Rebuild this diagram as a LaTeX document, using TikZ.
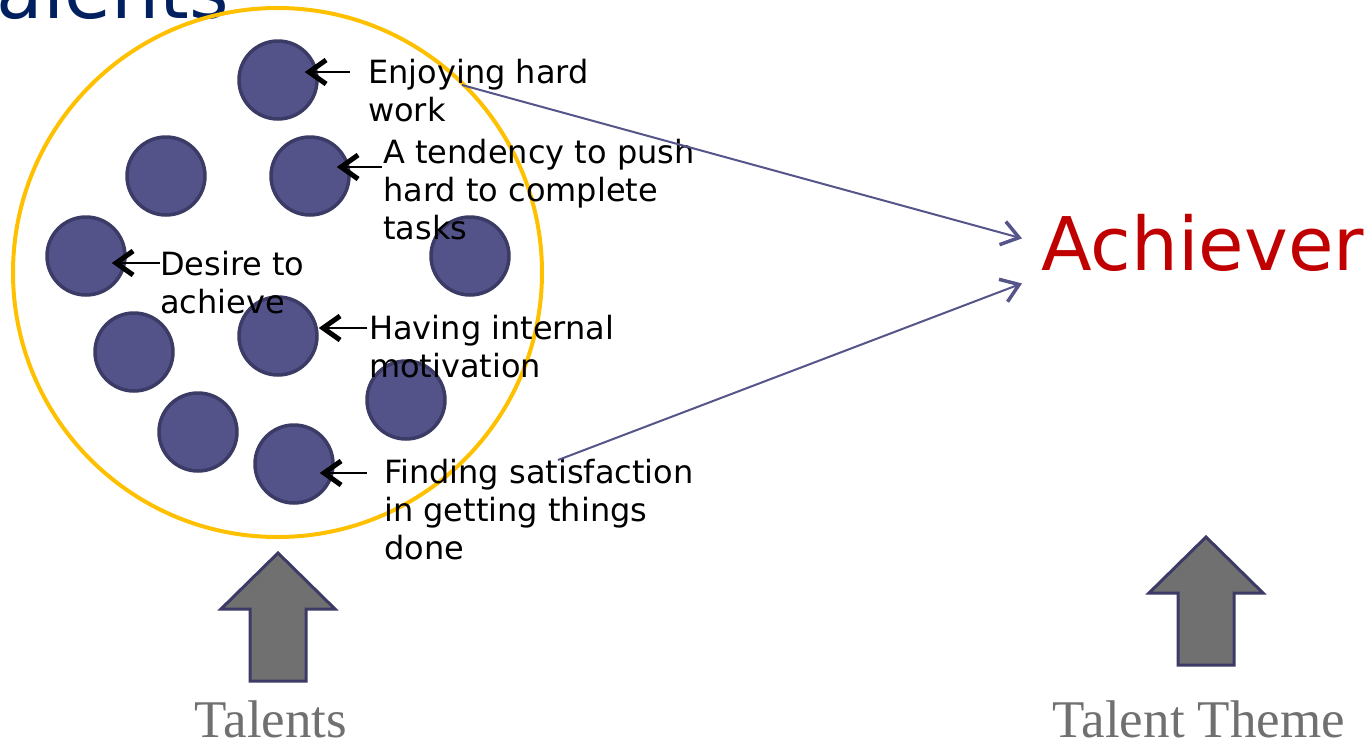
\documentclass[tikz,border=0pt]{standalone}
\usepackage{fontspec}
\setmainfont{DejaVu Sans}
\newfontfamily\capfont{Liberation Serif}
\usetikzlibrary{arrows.meta}

\definecolor{talentblue}{HTML}{535389}
\definecolor{talentedge}{HTML}{3B3B66}
\definecolor{ringyellow}{HTML}{FFC000}
\definecolor{titlenavy}{HTML}{002060}
\definecolor{achred}{HTML}{C00000}
\definecolor{captiongray}{HTML}{707070}
\definecolor{linkblue}{HTML}{55558A}

\tikzset{
  talent/.style={circle,fill=talentblue,draw=talentedge,line width=3.5pt,minimum size=78pt,inner sep=0pt},
  trait/.style={anchor=north west,align=left,inner sep=0pt,font=\fontsize{32}{38}\selectfont},
  pointer/.style={line width=2pt,-{Straight Barb[length=17pt,width=24pt,line width=5pt]}},
  link/.style={draw=linkblue,line width=2pt,-{Straight Barb[length=17pt,width=24pt,line width=3.5pt]}},
  caption/.style={anchor=base,inner sep=0pt,text=captiongray,font=\capfont\fontsize{53}{60}\selectfont},
  uparrow/.pic={
    \draw[draw=talentedge,fill=captiongray,line width=3pt]
      (0,0) -- (57,56) -- (28,56) -- (28,128) -- (-28,128) -- (-28,56) -- (-57,56) -- cycle;
  }
}

\begin{document}
\begin{tikzpicture}[x=1pt,y=-1pt]
  \useasboundingbox (0,0) rectangle (1371,742);

  % title, cut at the top edge
  \node[anchor=base east,inner sep=0pt,text=titlenavy,font=\fontsize{76}{80}\selectfont] (title) at (229,18) {Talents};

  % the ring of talents
  \draw[ringyellow,line width=4pt] (277.5,272.5) circle (264.5);
  \foreach \i/\p in {1/{(278,80)},2/{(166,176)},3/{(310,176)},4/{(86,256)},5/{(470,256)},
                     6/{(134,352)},7/{(278,336)},8/{(406,400)},9/{(198,432)},10/{(294,464)}}
    \node[talent] (c\i) at \p {};

  % traits
  \node[trait] (l1) at (368,59) {Enjoying hard\\work};
  \node[trait] (l2) at (383,139) {A tendency to push\\hard to complete\\tasks};
  \node[trait] (l3) at (160,251) {Desire to\\achieve};
  \node[trait] (l4) at (369,315) {Having internal\\motivation};
  \node[trait] (l5) at (384,459) {Finding satisfaction\\in getting things\\done};

  \foreach \l/\c/\g/\v/\d in {l1/c1/18/13/-14,l2/c3/1/28/-14,l3/c4/0/12/-15,l4/c7/2/13/0,l5/c10/17/14/-15}
    \draw[pointer,shorten >=\d pt] ([xshift=-\g pt,yshift=-\v pt]\l.north west) coordinate (s) -- (s -| \c.east);

  % theme
  \node[anchor=base west,inner sep=0pt,text=achred,font=\fontsize{74}{80}\selectfont] (ach) at (1041,270) {Achiever};
  \coordinate (from1) at (462,85);
  \coordinate (from2) at (558,460);
  \draw[link] (from1) -- ([shift={(-19pt,4pt)}]ach.west);
  \draw[link] (from2) -- ([shift={(-19pt,-41pt)}]ach.west);

  % bottom arrows and captions
  \pic at (278,553) {uparrow};
  \pic at (1206,537) {uparrow};
  \node[caption] (tal) at (271,737) {Talents};
  \node[caption] (theme) at (1199,737) {Talent Theme};
\end{tikzpicture}
\end{document}
